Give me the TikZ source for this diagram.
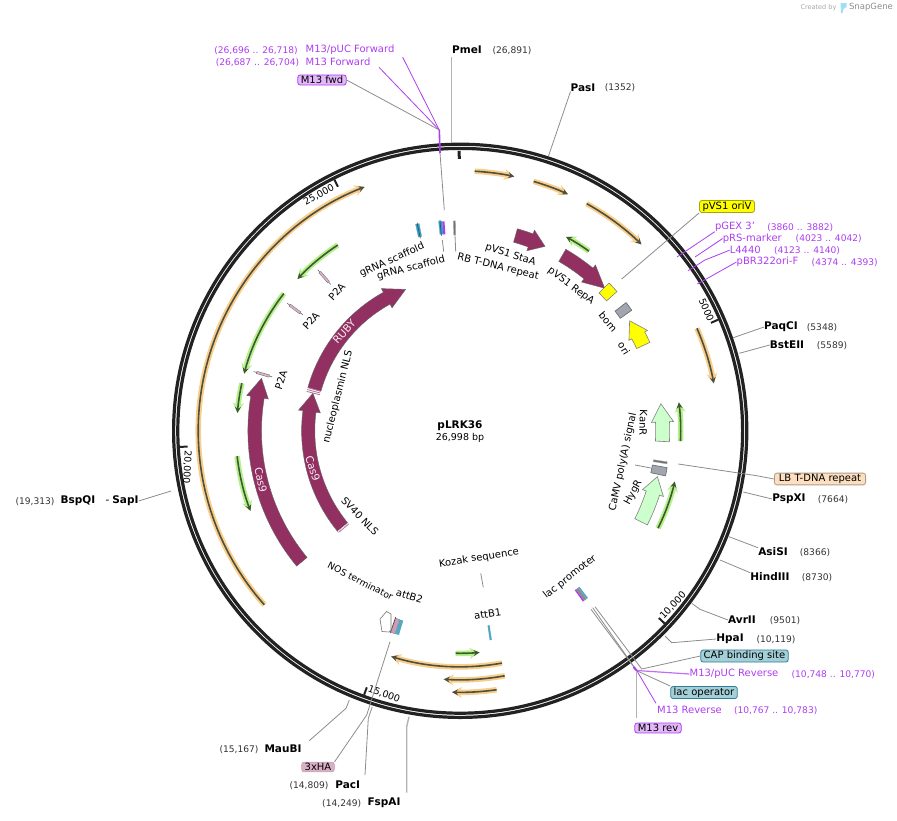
\documentclass[tikz,border=0pt]{standalone}
\usepackage{fontspec}
\setmainfont{DejaVu Sans}
\usetikzlibrary{arrows.meta}

\definecolor{ringblack}{HTML}{222222}
\definecolor{orfdark}{HTML}{4F4F3F}
\definecolor{orfglow}{HTML}{F9CE8A}
\definecolor{grnglow}{HTML}{B5F08C}
\definecolor{grndark}{HTML}{3C5A2E}
\definecolor{plum}{HTML}{923062}
\definecolor{primer}{HTML}{AD3DF0}
\definecolor{primerbox}{HTML}{E2B8FA}
\definecolor{leadgray}{HTML}{8C8C8C}
\definecolor{paleleaf}{HTML}{CCFFCC}
\definecolor{tealbox}{HTML}{A4CFD8}
\definecolor{tealbar}{HTML}{55A8C0}
\definecolor{tealedge}{HTML}{2F7F96}
\definecolor{peach}{HTML}{FBDFC0}
\definecolor{mauve}{HTML}{D9AFC6}
\definecolor{oriyellow}{RGB}{255,255,0}
\definecolor{blockgray}{HTML}{A0A5AE}
\definecolor{scafblue}{HTML}{18A8DC}
\definecolor{iconblue}{HTML}{A5DDF5}

\tikzset{
site/.style={font=\fontsize{10.5}{12}\selectfont\bfseries, inner sep=0pt},
sitepos/.style={font=\fontsize{9.1}{10}\selectfont, text=black!80, inner sep=0pt},
feat/.style={font=\fontsize{10}{12}\selectfont, inner sep=0pt},
ticklabel/.style={font=\fontsize{9.5}{11}\selectfont, inner sep=0pt},
inlabel/.style={font=\fontsize{10.5}{12}\selectfont, text=white!92!plum, inner sep=0pt},
primertxt/.style={font=\fontsize{10}{12}\selectfont, text=primer, inner sep=0pt},
primerpos/.style={font=\fontsize{9.1}{10}\selectfont, text=primer, inner sep=0pt},
tagbox/.style={
    rectangle,
    rounded corners=2.5pt,
    font=\fontsize{10}{12}\selectfont,
    inner xsep=3pt,
    inner ysep=1.2pt,
    line width=0.8pt
},
leader/.style={draw=leadgray, line width=0.8pt},
paleleader/.style={draw=black!30, line width=1.4pt},
primerline/.style={draw=primer, line width=0.8pt},
orfglowline/.style={draw=orfglow, line width=5.5pt, -{Stealth[length=10pt, width=11pt]}},
orfcore/.style={draw=orfdark, line width=1.6pt, -{Stealth[length=6pt, width=6pt]}},
grnglowline/.style={draw=grnglow, line width=5.5pt, -{Stealth[length=10pt, width=11pt]}},
grncore/.style={draw=grndark, line width=1.6pt, -{Stealth[length=6pt, width=6pt]}},
cds/.style={fill=plum, draw=black!60, line width=0.4pt},
paleorf/.style={fill=paleleaf, draw=black!50, line width=0.6pt},
oriarrow/.style={fill=oriyellow, draw=black!50, line width=0.6pt},
greyblock/.style={fill=blockgray, draw=black!60, line width=0.6pt},
tickmark/.style={draw=ringblack, line width=2pt}
}

% arc with a pale halo, then the dark line
\newcommand{\orfarc}[4]{
  \draw[#1glowline] (#3:#2) arc[start angle=#3, end angle=#4, radius=#2pt];
  \draw[#1core] (#3:#2) arc[start angle=#3, end angle=#4, radius=#2pt];
}
% style, radius, half width, head half width, tail, neck, tip
\newcommand{\blockarc}[7]{
  \pgfmathsetmacro\rout{#2+#3}
  \pgfmathsetmacro\rin{#2-#3}
  \pgfmathsetmacro\rhi{#2+#4}
  \pgfmathsetmacro\rlo{#2-#4}
  \filldraw[#1] (#5:\rout) arc[start angle=#5, end angle=#6, radius=\rout pt]
    -- (#6:\rhi) -- (#7:#2) -- (#6:\rlo) -- (#6:\rin)
    arc[start angle=#6, end angle=#5, radius=\rin pt] -- cycle;
}
% style, radius, half width, from, to
\newcommand{\barseg}[5]{
  \pgfmathsetmacro\rout{#2+#3}
  \pgfmathsetmacro\rin{#2-#3}
  \filldraw[#1] (#4:\rout) arc[start angle=#4, end angle=#5, radius=\rout pt]
    -- (#5:\rin) arc[start angle=#5, end angle=#4, radius=\rin pt] -- cycle;
}
% angle of a small P2A mark
\newcommand{\lensmark}[1]{
  \draw[black!60, line width=0.6pt] (#1:215) -- (#1:195.5);
  \draw[black!55, line width=2.8pt] (#1:212) -- (#1:198.5);
  \draw[mauve, line width=1.8pt] (#1:211.5) -- (#1:199);
}

\begin{document}
\begin{tikzpicture}[x=1pt, y=-1pt]
    \useasboundingbox (0,0) rectangle (897,820);

    % features, angles around the ring centre
    \begin{scope}[shift={(460.2pt,-430.8pt)}, x=1pt, y=1pt]
    \draw[ringblack, line width=3.2pt] (0,0) circle[radius=286.6pt];
    \draw[ringblack, line width=3.2pt] (0,0) circle[radius=282.4pt];

    \draw[tickmark, line width=3pt] (90.2:280) -- (90.2:272);
    \draw[tickmark] (23.3:281) -- (23.3:273);
    \draw[tickmark] (-43.3:281) -- (-43.3:273);
    \draw[tickmark] (-110:281) -- (-110:273);
    \draw[tickmark] (-176.7:281) -- (-176.7:273);
    \draw[tickmark] (116.6:281) -- (116.6:273);

    % orange arcs
    \orfarc{orf}{260}{86.8}{78.0}
    \orfarc{orf}{260}{73.6}{65.5}
    \orfarc{orf}{260}{60.9}{45.8}
    \orfarc{orf}{258}{23.4}{10.6}
    \orfarc{orf}{262}{221.6}{111.4}
    \orfarc{orf}{236}{280.2}{253.0}
    \orfarc{orf}{249}{280.3}{266.2}
    \orfarc{orf}{261.5}{278}{268.2}

    % green arcs
    \orfarc{grn}{222.5}{123.4}{137.0}
    \orfarc{grn}{223.5}{142.1}{165.2}
    \orfarc{grn}{223.5}{167.7}{175.4}
    \orfarc{grn}{224.5}{186.5}{200.9}
    \orfarc{grn}{221}{54.4}{61.4}
    \orfarc{grn}{220.5}{-2.7}{7.4}
    \orfarc{grn}{220.5}{-26.2}{-13.3}
    \orfarc{grn}{222.5}{268.8}{275}

    % block arrows
    \blockarc{cds}{205.5}{6.8}{11}{219.6}{170.6}{165.2}
    \blockarc{cds}{152}{6.6}{11}{219.4}{172.7}{165.7}
    \blockarc{cds}{151.6}{6.8}{11}{164.1}{119}{111.1}
    \blockarc{cds}{203}{7}{11}{74.2}{69.7}{65.3}
    \blockarc{cds}{203}{7}{11}{59.8}{50.8}{44.6}
    \blockarc{oriarrow}{202}{7.3}{10.5}{25}{28.2}{33}
    \blockarc{paleorf}{202.5}{7}{11}{-3}{2.5}{7.7}
    \blockarc{paleorf}{202.5}{7}{11}{-26.7}{-17.9}{-13.1}

    % short features
    \barseg{oriarrow}{202.7}{7}{41.6}{44.8}
    \barseg{greyblock}{202.7}{7}{35.1}{37.7}
    \barseg{greyblock}{202.7}{7.5}{-12.4}{-10.1}
    \barseg{fill=black!55, draw=black!30, line width=0.3pt}{202.4}{7}{-9.1}{-8.5}
    \barseg{fill=black!55, draw=black!30, line width=0.3pt}{203}{7}{91.3}{91.9}
    \barseg{fill=scafblue, draw=black!40, line width=0.3pt}{204.7}{6.5}{101.2}{102.2}
    \draw[black!70, line width=0.7pt] (101.7:212.5) -- (101.7:196.5);
    \barseg{fill=scafblue, draw=black!40, line width=0.3pt}{204}{6.5}{94.9}{95.9}
    \draw[black!70, line width=0.7pt] (95.5:212) -- (95.5:196);
    \barseg{fill=primer, draw=none}{203.5}{6.5}{94.3}{94.9}
    \barseg{fill=tealbar, draw=none}{204}{7.5}{278}{278.6}
    \barseg{fill=mauve!85!plum, draw=black!50, line width=0.3pt}{205.7}{7.5}{251}{252.2}
    \barseg{fill=tealbar, draw=none}{205.7}{7.5}{252.2}{253.3}
    \draw[black!70, line width=0.7pt] (250.9:214) -- (250.9:197);
    \barseg{fill=black!45, draw=none}{203.3}{7}{-53.9}{-53.1}
    \barseg{fill=tealbar, draw=none}{203.3}{7}{-53.1}{-52.6}
    \barseg{fill=primer, draw=none}{203.3}{7}{-54.3}{-53.9}

    % P2A
    \lensmark{131.5}
    \lensmark{143.6}
    \lensmark{164}

    % NLS stripes
    \draw[plum!70!white, line width=0.8pt] (164.2:145) -- (164.2:158.5);
    \draw[plum!70!white, line width=0.8pt] (164.9:145) -- (164.9:158.5);
    \draw[plum!70!white, line width=0.8pt] (165.6:145) -- (165.6:158.5);
    \draw[white, line width=0.5pt] (219.4:145) -- (219.4:158.5);
    \draw[plum!70!white, line width=0.7pt] (219.9:145) -- (219.9:158.5);
    \end{scope}

    % NOS terminator block
    \filldraw[draw=black!55, fill=white, line width=0.6pt]
        (391,614) -- (386.5,611.5) -- (380,619) -- (382,631.5) -- (389,632) -- (391,630) -- cycle;

    % tick labels
    \node[ticklabel, rotate=-66.7] (tk5) at (706.5,310) {5000};
    \node[ticklabel, rotate=46.7] (tk10) at (673,605.5) {10,000};
    \node[ticklabel, rotate=-20] (tk15) at (384,694) {15,000};
    \node[ticklabel, rotate=-93] (tk20) at (187,467) {20,000};
    \node[ticklabel, rotate=29] (tk25) at (319,195) {25,000};

    % centre
    \node[site] (title) at (460,426) {pLRK36};
    \node[feat, font=\fontsize{9.5}{11}\selectfont] (size) at (460,438) {26,998 bp};

    % labels around the inner features
    \node[feat, rotate=24] (scaf1) at (392,260) {gRNA scaffold};
    \node[feat, rotate=14] (scaf2) at (411,268) {gRNA scaffold};
    \node[feat, rotate=-14] (rbrep) at (498,267) {RB T-DNA repeat};
    \node[feat, rotate=-18] (stala) at (510.5,255) {pVS1 StaA};
    \node[feat, rotate=-37] (repa) at (571,286) {pVS1 RepA};
    \node[feat, rotate=-50] (bom) at (608,322) {bom};
    \node[feat, rotate=-58] (ori) at (624,348.5) {ori};
    \node[feat, rotate=-92] (kanr) at (643.3,423) {KanR};
    \node[feat, rotate=78] (camv) at (623,462) {CaMV poly(A) signal};
    \node[feat, rotate=62] (hygr) at (633.3,492.7) {HygR};
    \node[feat, rotate=38] (lacp) at (570,577) {lac promoter};
    \node[feat, rotate=9] (kozak) at (479,558) {Kozak sequence};
    \node[feat, rotate=8] (attb1) at (487.7,614) {attB1};
    \node[feat, rotate=-18] (attb2) at (409.5,596) {attB2};
    \node[feat, font=\fontsize{9.2}{11}\selectfont, rotate=-27] (nos) at (360.5,581) {NOS terminator};
    \node[feat, rotate=-46] (sv40) at (360,516) {SV40 NLS};
    \node[feat, rotate=76] (nucl) at (338,397) {nucleoplasmin NLS};
    \node[feat, rotate=48] (ptwo1) at (336.7,291.7) {P2A};
    \node[feat, rotate=48] (ptwo2) at (311,320.7) {P2A};
    \node[feat, rotate=72] (ptwo3) at (281,380) {P2A};
    \node[inlabel, rotate=48] (ruby) at (344.3,331.7) {RUBY};
    \node[inlabel, rotate=-78] (casa) at (260.7,480) {Cas9};
    \node[inlabel, rotate=-72] (casb) at (312.7,468.3) {Cas9};

    % top
    \node[site] (PmeI) at (467,50) {PmeI};
    \node[sitepos] (PmeIpos) at (512,50.5) {(26,891)};
    \coordinate (PmeIs) at (451.7,57);
    \coordinate (PmeIa) at (451.7,142);
    \draw[paleleader] (PmeIs) -- (PmeIa);

    \node[site] (PasI) at (583,87.5) {PasI};
    \node[sitepos] (PasIpos) at (620,88) {(1352)};
    \coordinate (PasIa) at (548.5,156);
    \draw[leader] (PasI.south west) -- (PasIa);

    \coordinate (fwdhub) at (439.3,130);
    \coordinate (fwdlow) at (440,153);
    \coordinate (fwdbar) at (444.3,210);
    \node[primertxt] (fwdpuc) at (350,50) {M13/pUC Forward};
    \node[primerpos] (fwdpucpos) at (256,51) {(26,696 .. 26,718)};
    \node[primertxt] (fwdm) at (338,62) {M13 Forward};
    \node[primerpos] (fwdmpos) at (257.5,63) {(26,687 .. 26,704)};
    \node[tagbox, fill=primerbox, draw=primer] (fwdtag) at (322,80) {M13 fwd};
    \coordinate (fwdpucs) at (402.7,57.3);
    \coordinate (fwdms) at (379,67.3);
    \draw[primerline] (fwdpucs) -- (fwdhub);
    \draw[primerline] (fwdms) -- (fwdhub);
    \draw[leader] (fwdtag.east) -- (fwdhub);
    \draw[primer, line width=1.6pt] (fwdhub) -- (fwdlow);
    \draw[leader] (fwdlow) -- (fwdbar);

    \coordinate (scafa) at (442.3,240);
    \coordinate (scafb) at (443.7,251.7);
    \draw[leader] (scafa) -- (scafb);
    \coordinate (rba) at (455,235);
    \coordinate (rbb) at (455.7,251.7);
    \draw[leader] (rba) -- (rbb);

    % right side, upper
    \node[tagbox, fill=oriyellow, draw=black!35!oriyellow] (oriV) at (727,206.5) {pVS1 oriV};
    \coordinate (oriVa) at (621.7,279);
    \draw[leader] (oriV.south west) -- (oriVa);

    \node[primertxt] (gex) at (735,226.7) {pGEX 3'};
    \node[primerpos] (gexpos) at (800.3,227.2) {(3860 .. 3882)};
    \node[primertxt] (prs) at (752.3,238.5) {pRS-marker};
    \node[primerpos] (prspos) at (828.7,239) {(4023 .. 4042)};
    \node[primertxt] (lfour) at (745.3,250.2) {L4440};
    \node[primerpos] (lfourpos) at (807,250.7) {(4123 .. 4140)};
    \node[primertxt] (pbr) at (767.5,262) {pBR322ori-F};
    \node[primerpos] (pbrpos) at (844.7,262.5) {(4374 .. 4393)};
    \coordinate (gexa) at (677,257);
    \coordinate (prsa) at (695,257);
    \coordinate (lfourm) at (705,260);
    \coordinate (lfoura) at (688,270.7);
    \coordinate (pbra) at (697.3,284);
    \draw[primerline] (gex.south west) -- (gexa);
    \draw[primerline] (prs.west) -- (prsa);
    \draw[primerline] (lfour.west) -- (lfourm) -- (lfoura);
    \draw[primerline] (pbr.west) -- (pbra);

    \node[site] (PaqCI) at (781,327) {PaqCI};
    \node[sitepos] (PaqCIpos) at (822,327.5) {(5348)};
    \coordinate (PaqCIa) at (733.3,337.7);
    \draw[leader] (PaqCI.west) -- (PaqCIa);
    \node[site] (BstEII) at (787,345) {BstEII};
    \node[sitepos] (BstEIIpos) at (832,345.5) {(5589)};
    \coordinate (BstEIIa) at (739.3,353.3);
    \draw[leader] (BstEII.west) -- (BstEIIa);

    % right side, lower
    \node[tagbox, fill=peach, draw=peach!70!black, inner xsep=4.5pt] (lbrep) at (820,479) {LB T-DNA repeat};
    \coordinate (lbm) at (756.7,475.7);
    \coordinate (lba) at (678.3,464);
    \draw[leader] (lbrep.west) -- (lbm) -- (lba);
    \coordinate (camvs) at (635,465);
    \coordinate (camvb) at (651,468);
    \draw[leader] (camvs) -- (camvb);

    \node[site] (PspXI) at (789,499) {PspXI};
    \node[sitepos] (PspXIpos) at (833,499.5) {(7664)};
    \coordinate (PspXIa) at (743.3,492);
    \draw[leader] (PspXI.west) -- (PspXIa);
    \node[site] (AsiSI) at (773,552) {AsiSI};
    \node[sitepos] (AsiSIpos) at (815,552.5) {(8366)};
    \coordinate (AsiSIa) at (729,536.7);
    \draw[leader] (AsiSI.north west) -- (AsiSIa);
    \node[site] (HindIII) at (770,577) {HindIII};
    \node[sitepos] (HindIIIpos) at (817,577.5) {(8730)};
    \coordinate (HindIIIa) at (720,560);
    \draw[leader] (HindIII.north west) -- (HindIIIa);
    \node[site] (AvrII) at (742,620) {AvrII};
    \node[sitepos] (AvrIIpos) at (785,620.5) {(9501)};
    \coordinate (AvrIIm) at (700,609.3);
    \coordinate (AvrIIa) at (691.7,603.3);
    \draw[leader] (AvrII.west) -- (AvrIIm) -- (AvrIIa);
    \node[site] (HpaI) at (730,639) {HpaI};
    \node[sitepos] (HpaIpos) at (776,639.5) {(10,119)};
    \coordinate (HpaIm) at (671.7,642.7);
    \coordinate (HpaIa) at (665,636);
    \draw[leader] (HpaI.west) -- (HpaIm) -- (HpaIa);

    \node[tagbox, fill=tealbox, draw=tealedge] (cap) at (744.5,656) {CAP binding site};
    \node[tagbox, fill=tealbox, draw=tealedge] (lacop) at (704,692.5) {lac operator};
    \coordinate (capm) at (641.7,669);
    \coordinate (capa) at (595,606.7);
    \coordinate (opm) at (636.7,670.7);
    \coordinate (opa) at (591,609.3);
    \coordinate (opb) at (592.7,607.7);
    \draw[leader] (cap.west) -- (capm) -- (capa);
    \draw[leader] (lacop.north west) -- (opm) -- (opa);
    \draw[leader] (opm) -- (opb);

    \coordinate (revhub) at (636.7,670.5);
    \coordinate (revdot) at (633.5,667);
    \node[primertxt] (revpuc) at (734,674) {M13/pUC Reverse};
    \node[primerpos] (revpucpos) at (833.3,675) {(10,748 .. 10,770)};
    \node[primertxt] (revm) at (689.5,710) {M13 Reverse};
    \node[primerpos] (revmpos) at (775.7,711) {(10,767 .. 10,783)};
    \node[tagbox, fill=primerbox, draw=primer] (revtag) at (658,728) {M13 rev};
    \coordinate (revms) at (656,703.3);
    \coordinate (revts) at (636.7,718.3);
    \draw[primer!75!white, line width=1.2pt] (revpuc.west) -- (revhub);
    \draw[primerline] (revms) -- (revhub);
    \draw[paleleader] (revts) -- (revhub);
    \draw[primer, line width=2pt] (revhub) -- (revdot);

    % left and bottom
    \node[site] (BspQI) at (78,501) {BspQI};
    \node[sitepos] (BspQIpos) at (35,502) {(19,313)};
    \node[site] (SapI) at (122,501) {\mdseries -\hspace{3pt}\bfseries SapI};
    \coordinate (SapIa) at (171,491);
    \draw[leader] (SapI.east) -- (SapIa);

    \node[site] (MauBI) at (283,749) {MauBI};
    \node[sitepos] (MauBIpos) at (239,750) {(15,167)};
    \coordinate (MauBIs) at (309.3,740.7);
    \coordinate (MauBIm) at (346,708.3);
    \coordinate (MauBIa) at (349.3,700);
    \draw[leader] (MauBIs) -- (MauBIm) -- (MauBIa);

    \node[tagbox, fill=mauve, draw=mauve!90!black, line width=0.5pt] (hatag) at (318,767) {3xHA};
    \coordinate (ham) at (366.7,715);
    \coordinate (haa) at (390,641.7);
    \draw[leader] (hatag.north east) -- (ham) -- (haa);

    \node[site] (PacI) at (347.7,785) {PacI};
    \node[sitepos] (PacIpos) at (309,786) {(14,809)};
    \coordinate (PacIs) at (365,775);
    \coordinate (PacIm) at (368.3,718.3);
    \coordinate (PacIa) at (372.3,706.7);
    \draw[leader] (PacIs) -- (PacIm) -- (PacIa);

    \node[site] (FspAI) at (384,803) {FspAI};
    \node[sitepos] (FspAIpos) at (341.7,804) {(14,249)};
    \coordinate (FspAIs) at (406.7,792.7);
    \coordinate (FspAIm) at (406.7,726.7);
    \coordinate (FspAIa) at (409,716.7);
    \draw[paleleader] (FspAIs) -- (FspAIm) -- (FspAIa);

    \coordinate (kozakb) at (483.3,587.3);
    \coordinate (kozaks) at (480.7,573.3);
    \draw[leader] (kozaks) -- (kozakb);

    % watermark
    \node[font=\fontsize{6.5}{8}\selectfont, text=black!35, inner sep=0pt] (madeby) at (818.5,7.3) {Created by};
    \fill[iconblue] (840.5,3) -- (846.5,3) -- (846.5,7) -- (843.5,9) -- (842.5,13) -- (841,13) -- cycle;
    \node[font=\fontsize{8.5}{10}\selectfont, text=black!45, inner sep=0pt] (snapgene) at (871,7.3) {SnapGene};

    \end{tikzpicture}
\end{document}
